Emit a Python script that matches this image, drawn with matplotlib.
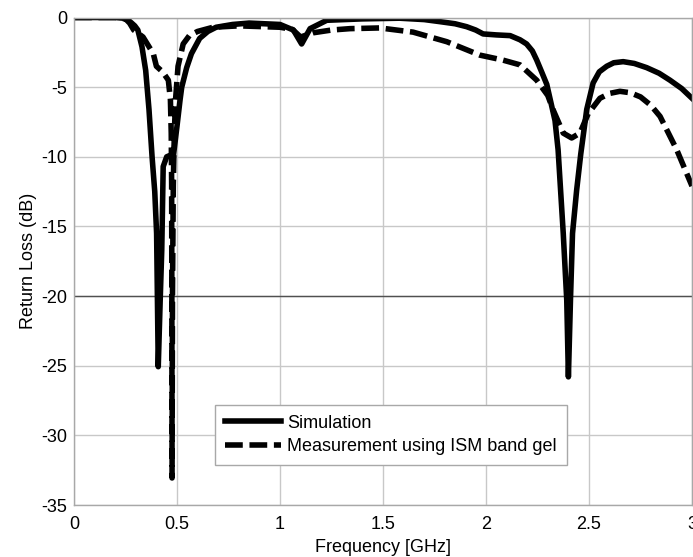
import numpy as np
import matplotlib
matplotlib.use("Agg")
import matplotlib.pyplot as plt

plt.rcParams['font.family'] = ['Liberation Sans', 'DejaVu Sans']
plt.rcParams['axes.unicode_minus'] = False

# === Datos ===
f_sim = [0.0, 0.1, 0.2, 0.24, 0.26, 0.28, 0.295, 0.31, 0.33, 0.348, 0.364, 0.379, 0.392, 0.401,
         0.409, 0.418, 0.426, 0.433, 0.45, 0.466, 0.482, 0.50, 0.515, 0.523, 0.547, 0.57,
         0.61, 0.65, 0.69, 0.77, 0.85, 1.0, 1.065, 1.105, 1.146, 1.227, 1.4, 1.58, 1.7,
         1.777, 1.85, 1.906, 1.95, 1.986, 2.05, 2.117, 2.165, 2.197, 2.225, 2.246, 2.27,
         2.295, 2.335, 2.35, 2.36, 2.375, 2.392, 2.40, 2.41, 2.42, 2.44, 2.46, 2.489, 2.52,
         2.55, 2.586, 2.62, 2.666, 2.72, 2.78, 2.84, 2.893, 2.95, 3.0]
rl_sim = [0.0, 0.0, 0.0, -0.05, -0.15, -0.4, -0.6, -0.9, -2.1, -3.8, -6.6, -10.0, -12.5, -15.5,
          -25.07, -20.5, -16.7, -10.7, -10.0, -9.9, -10.0, -7.8, -5.9, -5.0, -3.6, -2.6,
          -1.5, -1.0, -0.7, -0.5, -0.4, -0.5, -0.9, -1.9, -0.8, -0.2, -0.1, -0.05, -0.15,
          -0.3, -0.45, -0.66, -0.9, -1.18, -1.25, -1.3, -1.6, -1.9, -2.4, -3.05, -3.9,
          -4.8, -7.4, -9.5, -11.9, -15.5, -20.3, -25.8, -20.3, -15.5, -12.4, -9.8, -6.6, -4.7,
          -3.9, -3.5, -3.25, -3.17, -3.3, -3.6, -4.0, -4.5, -5.1, -5.8]

f_med = [0.0, 0.1, 0.2, 0.25, 0.27, 0.29, 0.335, 0.385, 0.40, 0.43, 0.458, 0.468, 0.472,
         0.474, 0.475, 0.476, 0.478, 0.482, 0.487, 0.493, 0.505, 0.53, 0.56, 0.6, 0.675,
         0.8, 1.0, 1.06, 1.1, 1.16, 1.25, 1.34, 1.485, 1.646, 1.81, 1.97, 2.08, 2.165,
         2.246, 2.30, 2.325, 2.375, 2.416, 2.456, 2.496, 2.553, 2.6, 2.65, 2.7, 2.75,
         2.8, 2.845, 2.926, 3.0]
rl_med = [0.0, 0.0, 0.0, -0.1, -0.4, -0.9, -1.4, -2.6, -3.5, -3.9, -4.5, -5.9, -8.3, -12.0,
          -20.0, -33.06, -20.0, -12.0, -8.3, -5.9, -3.5, -1.9, -1.3, -1.0, -0.7, -0.6,
          -0.7, -0.85, -1.4, -1.1, -0.9, -0.8, -0.75, -1.05, -1.74, -2.7, -3.05, -3.4,
          -4.5, -5.6, -6.6, -8.3, -8.65, -8.3, -6.9, -5.8, -5.45, -5.3, -5.4, -5.7, -6.3,
          -7.1, -9.5, -12.1]

# === Grafica ===
fig = plt.figure(figsize=(6.93, 5.57), dpi=100)
ax = fig.add_axes([74/693, 52/557, 618/693, 487.5/557])

ax.plot(f_sim, rl_sim, color='black', lw=4, solid_joinstyle='round', label='Simulation')
ax.plot(f_med, rl_med, color='black', lw=4, dashes=(3.2, 1.2),
        label='Measurement using ISM band gel')

ax.axhline(-20, color='#505050', lw=1, zorder=1)

ax.set_xlim(0, 3)
ax.set_ylim(-35, 0)
ax.set_xticks(np.arange(0, 3.01, 0.5))
ax.set_xticklabels(['0', '0.5', '1', '1.5', '2', '2.5', '3'])
ax.set_yticks(np.arange(-35, 0.1, 5))
ax.grid(True, color='#c8c8c8', lw=1)
ax.set_axisbelow(True)
for s in ax.spines.values():
    s.set_color('#a8a8a8')
    s.set_linewidth(1)

ax.tick_params(axis='both', length=0, labelsize=13)
ax.tick_params(axis='x', pad=8)
ax.tick_params(axis='y', pad=5)
ax.set_xlabel('Frequency [GHz]', fontsize=13, labelpad=4)
ax.set_ylabel('Return Loss (dB)', fontsize=13, labelpad=3)

leg = ax.legend(loc='lower left', bbox_to_anchor=(0.228, 0.082), borderaxespad=0,
                fontsize=13, handlelength=3.1, handletextpad=0.35, fancybox=False,
                framealpha=1, edgecolor='#a8a8a8', borderpad=0.55, labelspacing=0.35)
leg.get_frame().set_linewidth(1)

fig.savefig('out.png', dpi=100)
